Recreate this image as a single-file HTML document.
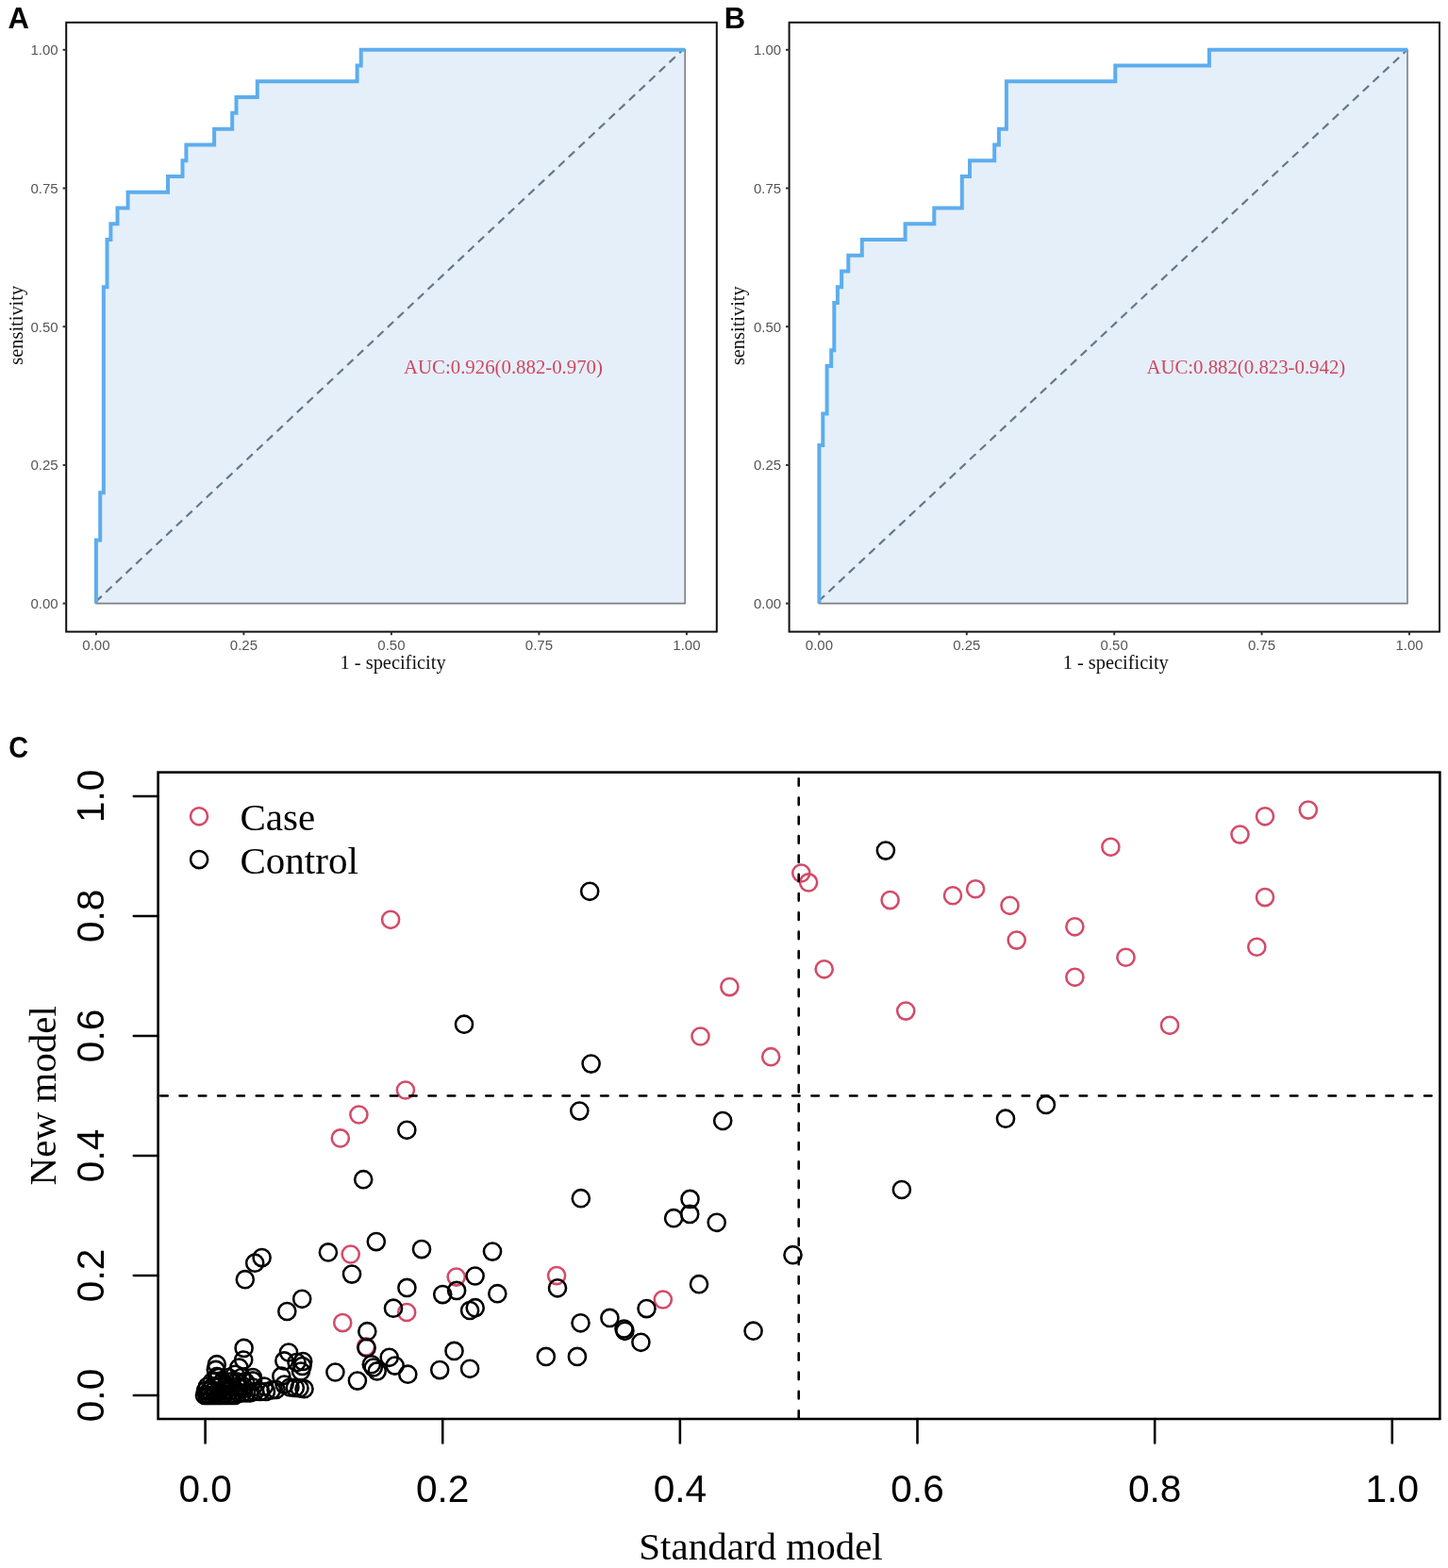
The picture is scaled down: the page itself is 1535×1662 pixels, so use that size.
<!DOCTYPE html>
<html><head><meta charset="utf-8"><style>
html,body{margin:0;padding:0;background:#fff;}
svg{display:block;}
.tk{font-family:"Liberation Sans",Arial,sans-serif;font-size:15px;fill:#555;}
.ti{font-family:"Liberation Serif","Times New Roman",serif;font-size:20.4px;fill:#111;}
.auc{font-family:"Liberation Serif","Times New Roman",serif;font-size:20.8px;fill:#D0465F;}
.let{font-family:"Liberation Sans",Arial,sans-serif;font-size:31px;font-weight:bold;fill:#000;}
.ct{font-family:"Liberation Sans",Arial,sans-serif;font-size:40.6px;fill:#000;}
.cs{font-family:"Liberation Serif","Times New Roman",serif;font-size:41px;fill:#000;}
</style></head><body>
<svg width="1535" height="1662" viewBox="0 0 1535 1662">
<rect width="1535" height="1662" fill="#fff"/>
<polygon points="101.90,639.60 101.90,572.54 106.20,572.54 106.20,522.24 109.80,522.24 109.80,304.29 113.50,304.29 113.50,253.99 117.40,253.99 117.40,237.22 124.50,237.22 124.50,220.46 135.60,220.46 135.60,203.69 178.00,203.69 178.00,186.93 193.50,186.93 193.50,170.16 197.40,170.16 197.40,153.39 227.10,153.39 227.10,136.63 246.20,136.63 246.20,119.86 250.50,119.86 250.50,103.10 272.80,103.10 272.80,86.33 378.60,86.33 378.60,69.57 382.70,69.57 382.70,52.80 726.20,52.80 726.20,639.60" fill="#E5EFF9" stroke="#808080" stroke-width="1.6"/>
<line x1="99.54" y1="639.6" x2="723.71" y2="52.8" stroke="#667788" stroke-width="2.2" stroke-dasharray="8.6 6.04" stroke-dashoffset="-2.73"/>
<path d="M101.90,639.60 L101.90,572.54 L106.20,572.54 L106.20,522.24 L109.80,522.24 L109.80,304.29 L113.50,304.29 L113.50,253.99 L117.40,253.99 L117.40,237.22 L124.50,237.22 L124.50,220.46 L135.60,220.46 L135.60,203.69 L178.00,203.69 L178.00,186.93 L193.50,186.93 L193.50,170.16 L197.40,170.16 L197.40,153.39 L227.10,153.39 L227.10,136.63 L246.20,136.63 L246.20,119.86 L250.50,119.86 L250.50,103.10 L272.80,103.10 L272.80,86.33 L378.60,86.33 L378.60,69.57 L382.70,69.57 L382.70,52.80 L726.20,52.80" fill="none" stroke="#5DADEE" stroke-width="4" stroke-linejoin="miter"/>
<rect x="70.2" y="23.8" width="689.5999999999999" height="645.8000000000001" fill="none" stroke="#111" stroke-width="2"/>
<line x1="66.60000000000001" y1="639.60" x2="70.2" y2="639.60" stroke="#333" stroke-width="2"/>
<text x="61.7" y="645.10" class="tk" text-anchor="end">0.00</text>
<line x1="101.90" y1="669.6" x2="101.90" y2="673.2" stroke="#333" stroke-width="2"/>
<text x="101.90" y="688.6" class="tk" text-anchor="middle">0.00</text>
<line x1="66.60000000000001" y1="492.90" x2="70.2" y2="492.90" stroke="#333" stroke-width="2"/>
<text x="61.7" y="498.40" class="tk" text-anchor="end">0.25</text>
<line x1="258.40" y1="669.6" x2="258.40" y2="673.2" stroke="#333" stroke-width="2"/>
<text x="258.40" y="688.6" class="tk" text-anchor="middle">0.25</text>
<line x1="66.60000000000001" y1="346.20" x2="70.2" y2="346.20" stroke="#333" stroke-width="2"/>
<text x="61.7" y="351.70" class="tk" text-anchor="end">0.50</text>
<line x1="414.90" y1="669.6" x2="414.90" y2="673.2" stroke="#333" stroke-width="2"/>
<text x="414.90" y="688.6" class="tk" text-anchor="middle">0.50</text>
<line x1="66.60000000000001" y1="199.50" x2="70.2" y2="199.50" stroke="#333" stroke-width="2"/>
<text x="61.7" y="205.00" class="tk" text-anchor="end">0.75</text>
<line x1="571.40" y1="669.6" x2="571.40" y2="673.2" stroke="#333" stroke-width="2"/>
<text x="571.40" y="688.6" class="tk" text-anchor="middle">0.75</text>
<line x1="66.60000000000001" y1="52.80" x2="70.2" y2="52.80" stroke="#333" stroke-width="2"/>
<text x="61.7" y="58.30" class="tk" text-anchor="end">1.00</text>
<line x1="727.90" y1="669.6" x2="727.90" y2="673.2" stroke="#333" stroke-width="2"/>
<text x="727.90" y="688.6" class="tk" text-anchor="middle">1.00</text>
<text x="416.6" y="708.8" class="ti" text-anchor="middle">1 - specificity</text>
<text transform="translate(23.6,344.8) rotate(-90)" class="ti" text-anchor="middle">sensitivity</text>
<text x="533.5" y="396.2" class="auc" text-anchor="middle">AUC:0.926(0.882-0.970)</text>
<text x="8.5" y="29.7" class="let">A</text>
<polygon points="868.40,639.60 868.40,471.94 872.30,471.94 872.30,438.41 876.60,438.41 876.60,388.11 881.20,388.11 881.20,371.35 884.30,371.35 884.30,321.05 887.90,321.05 887.90,304.29 892.10,304.29 892.10,287.52 899.30,287.52 899.30,270.75 913.80,270.75 913.80,253.99 959.60,253.99 959.60,237.22 990.30,237.22 990.30,220.46 1019.80,220.46 1019.80,186.93 1028.00,186.93 1028.00,170.16 1054.20,170.16 1054.20,153.39 1058.90,153.39 1058.90,136.63 1066.90,136.63 1066.90,86.33 1182.30,86.33 1182.30,69.57 1281.90,69.57 1281.90,52.80 1492.00,52.80 1492.00,639.60" fill="#E5EFF9" stroke="#808080" stroke-width="1.6"/>
<line x1="865.25" y1="639.6" x2="1491.72" y2="52.8" stroke="#667788" stroke-width="2.2" stroke-dasharray="8.6 6.04" stroke-dashoffset="-3.52"/>
<path d="M868.40,639.60 L868.40,471.94 L872.30,471.94 L872.30,438.41 L876.60,438.41 L876.60,388.11 L881.20,388.11 L881.20,371.35 L884.30,371.35 L884.30,321.05 L887.90,321.05 L887.90,304.29 L892.10,304.29 L892.10,287.52 L899.30,287.52 L899.30,270.75 L913.80,270.75 L913.80,253.99 L959.60,253.99 L959.60,237.22 L990.30,237.22 L990.30,220.46 L1019.80,220.46 L1019.80,186.93 L1028.00,186.93 L1028.00,170.16 L1054.20,170.16 L1054.20,153.39 L1058.90,153.39 L1058.90,136.63 L1066.90,136.63 L1066.90,86.33 L1182.30,86.33 L1182.30,69.57 L1281.90,69.57 L1281.90,52.80 L1492.00,52.80" fill="none" stroke="#5DADEE" stroke-width="4" stroke-linejoin="miter"/>
<rect x="836.6" y="23.8" width="689.4" height="645.8000000000001" fill="none" stroke="#111" stroke-width="2"/>
<line x1="833.0" y1="639.60" x2="836.6" y2="639.60" stroke="#333" stroke-width="2"/>
<text x="828.1" y="645.10" class="tk" text-anchor="end">0.00</text>
<line x1="868.40" y1="669.6" x2="868.40" y2="673.2" stroke="#333" stroke-width="2"/>
<text x="868.40" y="688.6" class="tk" text-anchor="middle">0.00</text>
<line x1="833.0" y1="492.90" x2="836.6" y2="492.90" stroke="#333" stroke-width="2"/>
<text x="828.1" y="498.40" class="tk" text-anchor="end">0.25</text>
<line x1="1024.80" y1="669.6" x2="1024.80" y2="673.2" stroke="#333" stroke-width="2"/>
<text x="1024.80" y="688.6" class="tk" text-anchor="middle">0.25</text>
<line x1="833.0" y1="346.20" x2="836.6" y2="346.20" stroke="#333" stroke-width="2"/>
<text x="828.1" y="351.70" class="tk" text-anchor="end">0.50</text>
<line x1="1181.20" y1="669.6" x2="1181.20" y2="673.2" stroke="#333" stroke-width="2"/>
<text x="1181.20" y="688.6" class="tk" text-anchor="middle">0.50</text>
<line x1="833.0" y1="199.50" x2="836.6" y2="199.50" stroke="#333" stroke-width="2"/>
<text x="828.1" y="205.00" class="tk" text-anchor="end">0.75</text>
<line x1="1337.60" y1="669.6" x2="1337.60" y2="673.2" stroke="#333" stroke-width="2"/>
<text x="1337.60" y="688.6" class="tk" text-anchor="middle">0.75</text>
<line x1="833.0" y1="52.80" x2="836.6" y2="52.80" stroke="#333" stroke-width="2"/>
<text x="828.1" y="58.30" class="tk" text-anchor="end">1.00</text>
<line x1="1494.00" y1="669.6" x2="1494.00" y2="673.2" stroke="#333" stroke-width="2"/>
<text x="1494.00" y="688.6" class="tk" text-anchor="middle">1.00</text>
<text x="1182.7" y="708.8" class="ti" text-anchor="middle">1 - specificity</text>
<text transform="translate(789.4,345.2) rotate(-90)" class="ti" text-anchor="middle">sensitivity</text>
<text x="1320.8" y="395.8" class="auc" text-anchor="middle">AUC:0.882(0.823-0.942)</text>
<text x="767.7" y="29.7" class="let">B</text>
<g fill="none" stroke="#D34B68" stroke-width="2.55"><circle cx="268.0" cy="1463.5" r="9.05"/><circle cx="230.0" cy="1459.0" r="9.05"/><circle cx="849.3" cy="925.5" r="9.05"/><circle cx="857.1" cy="935.4" r="9.05"/><circle cx="943.6" cy="954.1" r="9.05"/><circle cx="1010.0" cy="949.2" r="9.05"/><circle cx="1034.1" cy="942.2" r="9.05"/><circle cx="1070.5" cy="959.8" r="9.05"/><circle cx="1077.7" cy="996.6" r="9.05"/><circle cx="1139.4" cy="982.3" r="9.05"/><circle cx="1139.4" cy="1035.8" r="9.05"/><circle cx="873.7" cy="1027.3" r="9.05"/><circle cx="960.2" cy="1071.6" r="9.05"/><circle cx="1177.4" cy="897.8" r="9.05"/><circle cx="1314.5" cy="884.6" r="9.05"/><circle cx="1341.0" cy="865.3" r="9.05"/><circle cx="1386.8" cy="858.6" r="9.05"/><circle cx="1341.0" cy="951.1" r="9.05"/><circle cx="1332.3" cy="1003.7" r="9.05"/><circle cx="1193.5" cy="1014.7" r="9.05"/><circle cx="1240.0" cy="1086.8" r="9.05"/><circle cx="414.1" cy="974.8" r="9.05"/><circle cx="773.4" cy="1046.1" r="9.05"/><circle cx="742.5" cy="1098.5" r="9.05"/><circle cx="817.2" cy="1120.2" r="9.05"/><circle cx="429.9" cy="1155.5" r="9.05"/><circle cx="380.4" cy="1181.5" r="9.05"/><circle cx="360.8" cy="1206.4" r="9.05"/><circle cx="371.7" cy="1329.5" r="9.05"/><circle cx="483.7" cy="1353.6" r="9.05"/><circle cx="431.2" cy="1391.0" r="9.05"/><circle cx="363.2" cy="1402.1" r="9.05"/><circle cx="388.0" cy="1427.4" r="9.05"/><circle cx="590.1" cy="1352.1" r="9.05"/><circle cx="702.8" cy="1377.5" r="9.05"/></g>
<g fill="none" stroke="#000" stroke-width="2.55"><circle cx="217.0" cy="1479.0" r="9.05"/><circle cx="219.5" cy="1479.0" r="9.05"/><circle cx="222.0" cy="1479.0" r="9.05"/><circle cx="225.0" cy="1479.0" r="9.05"/><circle cx="228.0" cy="1479.0" r="9.05"/><circle cx="231.0" cy="1479.0" r="9.05"/><circle cx="234.0" cy="1479.0" r="9.05"/><circle cx="237.5" cy="1479.0" r="9.05"/><circle cx="241.0" cy="1479.0" r="9.05"/><circle cx="245.0" cy="1479.0" r="9.05"/><circle cx="249.0" cy="1479.0" r="9.05"/><circle cx="253.0" cy="1476.5" r="9.05"/><circle cx="257.0" cy="1476.5" r="9.05"/><circle cx="261.0" cy="1476.5" r="9.05"/><circle cx="265.0" cy="1476.5" r="9.05"/><circle cx="270.0" cy="1475.0" r="9.05"/><circle cx="276.0" cy="1475.0" r="9.05"/><circle cx="282.0" cy="1475.0" r="9.05"/><circle cx="288.0" cy="1473.5" r="9.05"/><circle cx="218.0" cy="1474.0" r="9.05"/><circle cx="222.0" cy="1474.0" r="9.05"/><circle cx="227.0" cy="1474.0" r="9.05"/><circle cx="232.0" cy="1474.0" r="9.05"/><circle cx="238.0" cy="1474.0" r="9.05"/><circle cx="244.0" cy="1474.0" r="9.05"/><circle cx="250.0" cy="1474.0" r="9.05"/><circle cx="220.0" cy="1469.5" r="9.05"/><circle cx="226.0" cy="1469.5" r="9.05"/><circle cx="233.0" cy="1469.5" r="9.05"/><circle cx="240.0" cy="1469.5" r="9.05"/><circle cx="246.0" cy="1469.5" r="9.05"/><circle cx="252.0" cy="1469.5" r="9.05"/><circle cx="258.0" cy="1469.5" r="9.05"/><circle cx="225.0" cy="1464.5" r="9.05"/><circle cx="236.0" cy="1464.5" r="9.05"/><circle cx="244.0" cy="1464.5" r="9.05"/><circle cx="251.0" cy="1464.5" r="9.05"/><circle cx="260.0" cy="1464.5" r="9.05"/><circle cx="232.0" cy="1460.0" r="9.05"/><circle cx="242.0" cy="1460.0" r="9.05"/><circle cx="256.0" cy="1460.0" r="9.05"/><circle cx="268.0" cy="1460.0" r="9.05"/><circle cx="268.0" cy="1463.5" r="9.05"/><circle cx="230.0" cy="1459.0" r="9.05"/><circle cx="256.0" cy="1472.0" r="9.05"/><circle cx="268.0" cy="1470.5" r="9.05"/><circle cx="280.0" cy="1469.5" r="9.05"/><circle cx="258.6" cy="1428.9" r="9.05"/><circle cx="258.2" cy="1441.5" r="9.05"/><circle cx="229.8" cy="1446.2" r="9.05"/><circle cx="228.8" cy="1451.9" r="9.05"/><circle cx="253.4" cy="1449.5" r="9.05"/><circle cx="249.2" cy="1456.8" r="9.05"/><circle cx="306.0" cy="1433.5" r="9.05"/><circle cx="301.3" cy="1442.4" r="9.05"/><circle cx="321.2" cy="1443.0" r="9.05"/><circle cx="314.5" cy="1444.0" r="9.05"/><circle cx="320.5" cy="1448.0" r="9.05"/><circle cx="319.0" cy="1453.5" r="9.05"/><circle cx="298.3" cy="1458.7" r="9.05"/><circle cx="292.6" cy="1473.0" r="9.05"/><circle cx="301.5" cy="1467.6" r="9.05"/><circle cx="307.4" cy="1470.5" r="9.05"/><circle cx="312.8" cy="1471.0" r="9.05"/><circle cx="317.5" cy="1471.4" r="9.05"/><circle cx="322.5" cy="1472.2" r="9.05"/><circle cx="938.9" cy="901.6" r="9.05"/><circle cx="625.2" cy="944.8" r="9.05"/><circle cx="492.0" cy="1085.7" r="9.05"/><circle cx="626.6" cy="1127.6" r="9.05"/><circle cx="614.3" cy="1177.6" r="9.05"/><circle cx="766.2" cy="1188.0" r="9.05"/><circle cx="1066.0" cy="1185.7" r="9.05"/><circle cx="1108.9" cy="1170.9" r="9.05"/><circle cx="955.9" cy="1261.0" r="9.05"/><circle cx="431.3" cy="1197.8" r="9.05"/><circle cx="385.2" cy="1250.2" r="9.05"/><circle cx="615.8" cy="1270.2" r="9.05"/><circle cx="731.5" cy="1270.9" r="9.05"/><circle cx="731.2" cy="1286.9" r="9.05"/><circle cx="714.1" cy="1291.2" r="9.05"/><circle cx="759.7" cy="1295.8" r="9.05"/><circle cx="840.5" cy="1330.2" r="9.05"/><circle cx="741.0" cy="1361.2" r="9.05"/><circle cx="798.6" cy="1410.7" r="9.05"/><circle cx="685.5" cy="1387.1" r="9.05"/><circle cx="679.4" cy="1422.8" r="9.05"/><circle cx="615.5" cy="1402.3" r="9.05"/><circle cx="646.4" cy="1396.9" r="9.05"/><circle cx="661.5" cy="1408.5" r="9.05"/><circle cx="662.4" cy="1410.8" r="9.05"/><circle cx="578.8" cy="1437.9" r="9.05"/><circle cx="611.9" cy="1437.9" r="9.05"/><circle cx="591.0" cy="1365.3" r="9.05"/><circle cx="522.0" cy="1326.6" r="9.05"/><circle cx="527.3" cy="1371.2" r="9.05"/><circle cx="347.9" cy="1327.4" r="9.05"/><circle cx="398.8" cy="1316.1" r="9.05"/><circle cx="373.0" cy="1350.6" r="9.05"/><circle cx="447.0" cy="1324.1" r="9.05"/><circle cx="503.6" cy="1352.5" r="9.05"/><circle cx="431.4" cy="1364.9" r="9.05"/><circle cx="469.2" cy="1372.1" r="9.05"/><circle cx="484.1" cy="1367.9" r="9.05"/><circle cx="417.0" cy="1386.7" r="9.05"/><circle cx="498.1" cy="1389.0" r="9.05"/><circle cx="503.7" cy="1386.2" r="9.05"/><circle cx="389.3" cy="1411.2" r="9.05"/><circle cx="388.6" cy="1428.7" r="9.05"/><circle cx="412.7" cy="1438.8" r="9.05"/><circle cx="355.4" cy="1454.5" r="9.05"/><circle cx="378.9" cy="1463.6" r="9.05"/><circle cx="393.8" cy="1446.3" r="9.05"/><circle cx="395.8" cy="1449.5" r="9.05"/><circle cx="399.7" cy="1453.4" r="9.05"/><circle cx="418.6" cy="1447.6" r="9.05"/><circle cx="432.3" cy="1456.7" r="9.05"/><circle cx="466.2" cy="1452.1" r="9.05"/><circle cx="481.5" cy="1431.9" r="9.05"/><circle cx="498.1" cy="1450.8" r="9.05"/><circle cx="277.6" cy="1333.1" r="9.05"/><circle cx="270.2" cy="1338.7" r="9.05"/><circle cx="259.8" cy="1356.2" r="9.05"/><circle cx="320.2" cy="1376.8" r="9.05"/><circle cx="304.3" cy="1390.0" r="9.05"/></g>
<line x1="167.6" y1="1161.45" x2="1526.4" y2="1161.45" stroke="#000" stroke-width="2.55" stroke-dasharray="7.55 12.75" stroke-dashoffset="-2.6" stroke-linecap="round"/>
<line x1="846.70" y1="1504.0" x2="846.70" y2="818.6" stroke="#000" stroke-width="2.55" stroke-dasharray="7.55 12.75" stroke-dashoffset="-1.3" stroke-linecap="round"/>
<rect x="167.6" y="818.6" width="1358.8" height="685.4" fill="none" stroke="#000" stroke-width="2.55"/>
<line x1="217.60" y1="1504.0" x2="217.60" y2="1529.5" stroke="#000" stroke-width="2.55" stroke-linecap="round"/>
<text x="217.60" y="1592.4" class="ct" text-anchor="middle">0.0</text>
<line x1="167.6" y1="1479.00" x2="141.79999999999998" y2="1479.00" stroke="#000" stroke-width="2.55" stroke-linecap="round"/>
<text transform="translate(109.6,1479.00) rotate(-90)" class="ct" text-anchor="middle">0.0</text>
<line x1="469.24" y1="1504.0" x2="469.24" y2="1529.5" stroke="#000" stroke-width="2.55" stroke-linecap="round"/>
<text x="469.24" y="1592.4" class="ct" text-anchor="middle">0.2</text>
<line x1="167.6" y1="1351.98" x2="141.79999999999998" y2="1351.98" stroke="#000" stroke-width="2.55" stroke-linecap="round"/>
<text transform="translate(109.6,1351.98) rotate(-90)" class="ct" text-anchor="middle">0.2</text>
<line x1="720.88" y1="1504.0" x2="720.88" y2="1529.5" stroke="#000" stroke-width="2.55" stroke-linecap="round"/>
<text x="720.88" y="1592.4" class="ct" text-anchor="middle">0.4</text>
<line x1="167.6" y1="1224.96" x2="141.79999999999998" y2="1224.96" stroke="#000" stroke-width="2.55" stroke-linecap="round"/>
<text transform="translate(109.6,1224.96) rotate(-90)" class="ct" text-anchor="middle">0.4</text>
<line x1="972.52" y1="1504.0" x2="972.52" y2="1529.5" stroke="#000" stroke-width="2.55" stroke-linecap="round"/>
<text x="972.52" y="1592.4" class="ct" text-anchor="middle">0.6</text>
<line x1="167.6" y1="1097.94" x2="141.79999999999998" y2="1097.94" stroke="#000" stroke-width="2.55" stroke-linecap="round"/>
<text transform="translate(109.6,1097.94) rotate(-90)" class="ct" text-anchor="middle">0.6</text>
<line x1="1224.16" y1="1504.0" x2="1224.16" y2="1529.5" stroke="#000" stroke-width="2.55" stroke-linecap="round"/>
<text x="1224.16" y="1592.4" class="ct" text-anchor="middle">0.8</text>
<line x1="167.6" y1="970.92" x2="141.79999999999998" y2="970.92" stroke="#000" stroke-width="2.55" stroke-linecap="round"/>
<text transform="translate(109.6,970.92) rotate(-90)" class="ct" text-anchor="middle">0.8</text>
<line x1="1475.80" y1="1504.0" x2="1475.80" y2="1529.5" stroke="#000" stroke-width="2.55" stroke-linecap="round"/>
<text x="1475.80" y="1592.4" class="ct" text-anchor="middle">1.0</text>
<line x1="167.6" y1="843.90" x2="141.79999999999998" y2="843.90" stroke="#000" stroke-width="2.55" stroke-linecap="round"/>
<text transform="translate(109.6,843.90) rotate(-90)" class="ct" text-anchor="middle">1.0</text>
<circle cx="211" cy="865.3" r="9.05" fill="none" stroke="#D34B68" stroke-width="2.55"/>
<circle cx="211.1" cy="911.1" r="9.05" fill="none" stroke="#000" stroke-width="2.55"/>
<text x="254.5" y="879.9" class="cs">Case</text>
<text x="254.5" y="925.5" class="cs">Control</text>
<text x="806.5" y="1652.9" class="cs" text-anchor="middle">Standard model</text>
<text transform="translate(58.5,1161.3) rotate(-90)" class="cs" text-anchor="middle">New model</text>
<text transform="translate(9.2,803.3) scale(0.93,1.01)" class="let">C</text>
</svg>
</body></html>
